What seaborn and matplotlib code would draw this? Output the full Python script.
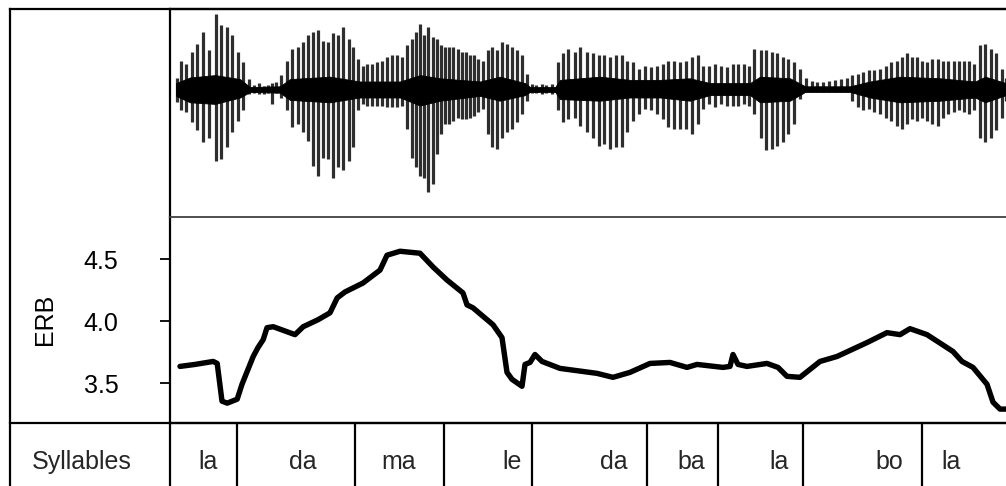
import matplotlib
matplotlib.use("Agg")
import matplotlib.pyplot as plt
import seaborn as sns

sns.set_style("white")
plt.rcParams['font.family'] = ['Liberation Sans', 'DejaVu Sans']

# ---- pitch contour: time (s) and ERB-rate ----
erb_time = [0.025, 0.0625, 0.108, 0.118, 0.13, 0.143, 0.168, 0.18, 0.208, 0.22,
            0.233, 0.2425, 0.258, 0.3125, 0.333, 0.37, 0.40, 0.418, 0.4375, 0.4825,
            0.525, 0.5425, 0.575, 0.625, 0.658, 0.6925, 0.7325, 0.7425, 0.7575, 0.8075,
            0.83, 0.8425, 0.855, 0.88, 0.8875, 0.90, 0.9125, 0.93, 0.975, 1.0675,
            1.1075, 1.15, 1.20, 1.25, 1.2925, 1.3175, 1.3825, 1.40, 1.4075, 1.42,
            1.4425, 1.4925, 1.52, 1.5425, 1.575, 1.625, 1.6675, 1.7425, 1.7925, 1.825,
            1.85, 1.8925, 1.9575, 1.98, 2.0075, 2.0425, 2.0575, 2.075, 2.0925]
erb_value = [3.636, 3.652, 3.676, 3.66, 3.356, 3.34, 3.372, 3.492, 3.716, 3.788,
             3.852, 3.948, 3.956, 3.892, 3.956, 4.012, 4.068, 4.188, 4.236, 4.308,
             4.412, 4.532, 4.564, 4.548, 4.436, 4.332, 4.228, 4.132, 4.108, 3.972,
             3.868, 3.588, 3.532, 3.476, 3.652, 3.668, 3.732, 3.676, 3.62, 3.58,
             3.548, 3.588, 3.66, 3.668, 3.628, 3.652, 3.628, 3.636, 3.732, 3.652,
             3.636, 3.66, 3.628, 3.556, 3.548, 3.676, 3.716, 3.828, 3.908, 3.892,
             3.94, 3.892, 3.756, 3.676, 3.628, 3.492, 3.348, 3.292, 3.292]
erb_ticks = [3.5, 4.0, 4.5]

# ---- waveform: glottal pulse times with positive / negative peak amplitude ----
pulse_time = [0.017, 0.027, 0.039, 0.056, 0.068, 0.083, 0.098, 0.114, 0.128, 0.142,
              0.154, 0.169, 0.183, 0.198, 0.21, 0.223, 0.235, 0.245, 0.256, 0.265,
              0.278, 0.292, 0.306, 0.319, 0.333, 0.344, 0.358, 0.371, 0.383, 0.396,
              0.408, 0.421, 0.433, 0.448, 0.458, 0.471, 0.482, 0.493, 0.505, 0.517,
              0.529, 0.542, 0.554, 0.567, 0.579, 0.593, 0.604, 0.615, 0.625, 0.636,
              0.646, 0.657, 0.667, 0.677, 0.688, 0.698, 0.708, 0.719, 0.729, 0.74,
              0.75, 0.761, 0.771, 0.782, 0.794, 0.806, 0.818, 0.829, 0.842, 0.854,
              0.867, 0.879, 0.892, 0.904, 0.916, 0.929, 0.941, 0.954, 0.969, 0.983,
              0.996, 1.013, 1.025, 1.043, 1.058, 1.073, 1.086, 1.10, 1.115, 1.129,
              1.143, 1.158, 1.173, 1.188, 1.203, 1.217, 1.232, 1.246, 1.261, 1.275,
              1.29, 1.304, 1.319, 1.333, 1.348, 1.363, 1.378, 1.392, 1.407, 1.421,
              1.435, 1.448, 1.46, 1.477, 1.49, 1.504, 1.518, 1.533, 1.546, 1.561,
              1.575, 1.589, 1.604, 1.618, 1.633, 1.648, 1.663, 1.677, 1.692, 1.706,
              1.719, 1.733, 1.748, 1.761, 1.775, 1.789, 1.803, 1.817, 1.829, 1.842,
              1.854, 1.867, 1.879, 1.892, 1.906, 1.919, 1.933, 1.946, 1.96, 1.973,
              1.986, 1.998, 2.01, 2.025, 2.038, 2.052, 2.065, 2.079, 2.09]
pulse_hi = [0.15, 0.36, 0.32, 0.47, 0.57, 0.72, 0.49, 0.94, 0.80, 0.78,
            0.68, 0.47, 0.34, 0.13, 0.06, 0.08, 0.05, 0.06, 0.08, 0.09,
            0.18, 0.36, 0.51, 0.53, 0.59, 0.68, 0.72, 0.74, 0.61, 0.59,
            0.70, 0.68, 0.78, 0.63, 0.53, 0.38, 0.30, 0.32, 0.32, 0.34,
            0.36, 0.40, 0.43, 0.43, 0.40, 0.55, 0.63, 0.72, 0.82, 0.68,
            0.78, 0.65, 0.63, 0.55, 0.53, 0.53, 0.53, 0.51, 0.47, 0.47,
            0.43, 0.43, 0.38, 0.36, 0.49, 0.53, 0.49, 0.59, 0.57, 0.53,
            0.49, 0.43, 0.20, 0.07, 0.06, 0.07, 0.06, 0.07, 0.34, 0.45,
            0.51, 0.47, 0.53, 0.47, 0.45, 0.43, 0.43, 0.40, 0.43, 0.43,
            0.36, 0.34, 0.26, 0.30, 0.28, 0.30, 0.32, 0.36, 0.36, 0.34,
            0.36, 0.40, 0.43, 0.30, 0.30, 0.32, 0.30, 0.28, 0.32, 0.32,
            0.32, 0.30, 0.51, 0.49, 0.49, 0.47, 0.45, 0.40, 0.38, 0.34,
            0.26, 0.15, 0.11, 0.10, 0.10, 0.11, 0.12, 0.13, 0.15, 0.18,
            0.20, 0.22, 0.24, 0.24, 0.26, 0.30, 0.34, 0.36, 0.40, 0.45,
            0.40, 0.40, 0.36, 0.34, 0.38, 0.38, 0.36, 0.36, 0.36, 0.36,
            0.36, 0.36, 0.32, 0.55, 0.57, 0.51, 0.45, 0.26, 0.15]
pulse_lo = [-0.16, -0.26, -0.28, -0.41, -0.51, -0.66, -0.60, -0.89, -0.87, -0.72,
            -0.53, -0.39, -0.26, -0.05, -0.04, -0.05, -0.05, -0.04, -0.18, -0.04,
            -0.11, -0.26, -0.47, -0.43, -0.53, -0.64, -0.95, -1.08, -0.85, -0.87,
            -1.10, -0.97, -1.01, -0.89, -0.72, -0.26, -0.18, -0.20, -0.20, -0.20,
            -0.20, -0.22, -0.22, -0.22, -0.20, -0.49, -0.85, -0.97, -1.08, -1.10,
            -1.28, -1.18, -0.80, -0.55, -0.43, -0.43, -0.39, -0.35, -0.37, -0.37,
            -0.35, -0.33, -0.28, -0.24, -0.55, -0.72, -0.74, -0.60, -0.53, -0.49,
            -0.41, -0.30, -0.14, -0.04, -0.04, -0.05, -0.04, -0.05, -0.26, -0.41,
            -0.37, -0.35, -0.45, -0.53, -0.60, -0.70, -0.68, -0.74, -0.72, -0.72,
            -0.53, -0.39, -0.30, -0.24, -0.26, -0.30, -0.37, -0.47, -0.49, -0.49,
            -0.49, -0.55, -0.43, -0.24, -0.18, -0.22, -0.18, -0.20, -0.20, -0.20,
            -0.18, -0.20, -0.30, -0.60, -0.76, -0.74, -0.70, -0.66, -0.55, -0.43,
            -0.12, -0.03, -0.03, -0.03, -0.03, -0.03, -0.03, -0.03, -0.03, -0.14,
            -0.22, -0.26, -0.24, -0.28, -0.30, -0.35, -0.39, -0.45, -0.49, -0.43,
            -0.37, -0.39, -0.35, -0.39, -0.43, -0.45, -0.35, -0.30, -0.28, -0.26,
            -0.28, -0.30, -0.26, -0.60, -0.66, -0.60, -0.51, -0.35, -0.14]

# dense high-frequency band around the zero line
core_time = [0.015, 0.05, 0.113, 0.175, 0.20, 0.275, 0.30, 0.40, 0.475, 0.575,
             0.625, 0.675, 0.775, 0.825, 0.888, 0.90, 0.963, 0.975, 1.075, 1.15,
             1.225, 1.30, 1.35, 1.45, 1.475, 1.55, 1.588, 1.70, 1.75, 1.825,
             1.925, 2.013, 2.038, 2.09]
core_hi = [0.08, 0.15, 0.18, 0.13, 0.03, 0.04, 0.13, 0.16, 0.10, 0.10,
           0.18, 0.14, 0.10, 0.16, 0.08, 0.03, 0.03, 0.12, 0.16, 0.12,
           0.12, 0.14, 0.08, 0.08, 0.16, 0.14, 0.04, 0.04, 0.10, 0.16,
           0.14, 0.10, 0.16, 0.08]
core_lo = [-0.08, -0.16, -0.18, -0.10, -0.03, -0.04, -0.13, -0.16, -0.10, -0.10,
           -0.20, -0.14, -0.08, -0.14, -0.07, -0.03, -0.03, -0.12, -0.14, -0.10,
           -0.10, -0.14, -0.07, -0.07, -0.16, -0.14, -0.03, -0.03, -0.10, -0.16,
           -0.14, -0.10, -0.16, -0.07]

# ---- syllable tier ----
syllables = ["la", "da", "ma", "le", "da", "ba", "la", "bo", "la"]
syllable_label_time = [0.095, 0.3325, 0.5725, 0.855, 1.11, 1.3025, 1.5225, 1.7975, 1.9525]
syllable_bounds = [0.1675, 0.4625, 0.686, 0.904, 1.1925, 1.37, 1.5825, 1.879]

# ---- layout (pixel geometry of the figure) ----
W, H = 1006, 486
T_END = 2.105
FS = 18


def rect(x0, y0, x1, y1):
    return [x0 / W, 1 - y1 / H, (x1 - x0) / W, (y1 - y0) / H]


def frame(ax, on=(), lw=1.6, color="black"):
    for name, sp in ax.spines.items():
        sp.set_visible(name in on)
        sp.set_linewidth(lw)
        sp.set_color(color)
    ax.set_facecolor("none")


fig = plt.figure(figsize=(W / 100, H / 100), dpi=100)
fig.patch.set_facecolor("white")

x_left, x_div, x_right = 9.5, 170, 170 + T_END * 400
y_top, y_mid, y_syl, y_bot = 9.5, 216.5, 423, 530

ax_bg = fig.add_axes(rect(x_left, y_top, 1040, y_bot))
frame(ax_bg, on=("left", "top"))
ax_bg.set_xticks([]); ax_bg.set_yticks([])

ax_wave = fig.add_axes(rect(x_div, y_top, x_right, y_mid))
ax_erb = fig.add_axes(rect(x_div, y_mid, x_right, y_syl))
ax_syl = fig.add_axes(rect(x_div, y_syl, x_right, y_bot))
ax_lab = fig.add_axes(rect(x_left, y_syl, x_div, y_bot))

# waveform
frame(ax_wave, on=("left", "top"))
ax_wave.fill_between(core_time, core_lo, core_hi, color="black", lw=0.6, zorder=2)
ax_wave.vlines(pulse_time, pulse_lo, pulse_hi, color="black", lw=2.3, alpha=0.82, zorder=3)
ax_wave.set_xlim(0, T_END)
ax_wave.set_ylim(-1.5875, 1.0)
ax_wave.set_xticks([]); ax_wave.set_yticks([])

# pitch contour
frame(ax_erb, on=("left", "bottom", "top"))
ax_erb.spines["top"].set_color("#404040")
ax_erb.spines["top"].set_linewidth(1.3)
sns.lineplot(x=erb_time, y=erb_value, ax=ax_erb, color="black", linewidth=3.9,
             sort=False, solid_joinstyle="round", solid_capstyle="round")
ax_erb.set_xlim(0, T_END)
ax_erb.set_ylim(3.18, 4.844)
ax_erb.set_xticks([])
ax_erb.set_yticks(erb_ticks)
ax_erb.set_yticklabels([f"{v:.1f}" for v in erb_ticks])
ax_erb.tick_params(axis="y", direction="out", length=7, width=1.3, pad=30,
                   labelsize=FS, colors="black", left=True)
ax_erb.set_ylabel("ERB", fontsize=FS, color="black")
ax_erb.yaxis.set_label_coords(-0.134, 0.5)

# syllable tier
frame(ax_syl, on=("left", "top"))
ax_syl.set_xlim(0, T_END)
ax_syl.set_ylim(0, 1)
for b in syllable_bounds:
    ax_syl.axvline(b, color="black", lw=1.6)
for t, s in zip(syllable_label_time, syllables):
    ax_syl.text(t, 0.64, s, ha="center", va="center", fontsize=FS)
ax_syl.set_xticks([]); ax_syl.set_yticks([])

frame(ax_lab, on=("top",))
ax_lab.set_xlim(0, 1); ax_lab.set_ylim(0, 1)
ax_lab.text(0.45, 0.64, "Syllables", ha="center", va="center", fontsize=FS)
ax_lab.set_xticks([]); ax_lab.set_yticks([])

fig.savefig("out.png", dpi=100, facecolor="white")
